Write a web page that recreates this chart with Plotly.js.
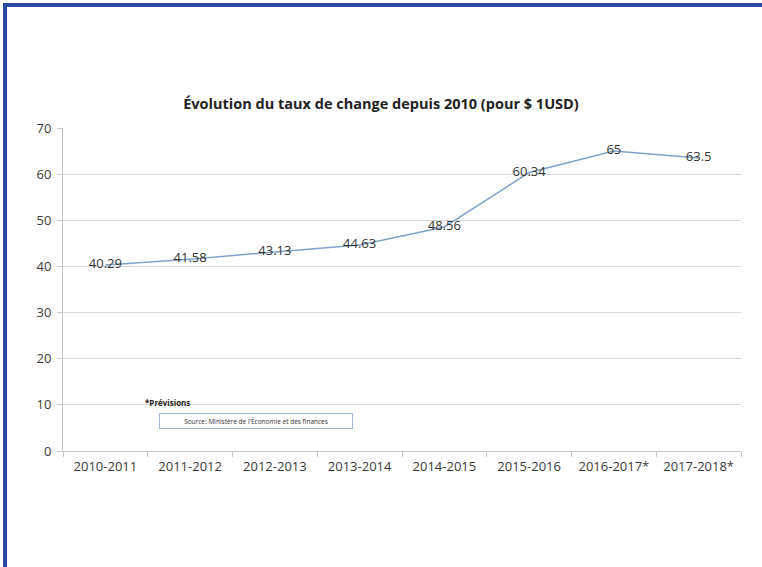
<!DOCTYPE html>
<html>
<head>
<meta charset="utf-8">
<script src="https://cdn.plot.ly/plotly-3.0.1.min.js"></script>
<style>
html,body{margin:0;padding:0;background:#fff;}
#wrap{position:relative;width:762px;height:567px;overflow:hidden;}
#frame{position:absolute;left:3px;top:3px;width:800px;height:600px;border-top:4px solid #2b479e;border-left:4px solid #2b479e;box-sizing:border-box;pointer-events:none;z-index:5;}
#chart{position:absolute;left:0;top:0;width:762px;height:567px;}
</style>
</head>
<body>
<div id="wrap">
<div id="chart"></div>
<div id="frame"></div>
</div>
<script>
const categories = ["2010-2011","2011-2012","2012-2013","2013-2014","2014-2015","2015-2016","2016-2017*","2017-2018*"];
const rates = [40.29, 41.58, 43.13, 44.63, 48.56, 60.34, 65, 63.5];
const rateLabels = ["40.29","41.58","43.13","44.63","48.56","60.34","65","63.5"];
const yTicks = [0,10,20,30,40,50,60,70];

const font = "Open Sans, Liberation Sans, sans-serif";

const trace = {
  x: categories,
  y: rates,
  type: "scatter",
  mode: "lines+text",
  text: rateLabels,
  textposition: "middle center",
  textfont: {family: font, size: 13, color: "#333333"},
  line: {color: "#7fa3c9", width: 1.5},
  hoverinfo: "x+y",
  cliponaxis: false
};

const layout = {
  width: 762, height: 567,
  paper_bgcolor: "#ffffff",
  plot_bgcolor: "#ffffff",
  margin: {l: 63, r: 21, t: 128, b: 116},
  showlegend: false,
  title: {
    text: "<b>Évolution du taux de change depuis 2010 (pour $ 1USD)</b>",
    font: {family: font, size: 14.5, color: "#222222"},
    x: 0.5, xref: "container", xanchor: "center",
    y: 1 - 104/567, yref: "container", yanchor: "middle"
  },
  xaxis: {
    type: "category",
    tickson: "boundaries",
    ticks: "outside", ticklen: 5, tickcolor: "#c8c8c8",
    ticklabelstandoff: 3,
    showline: true, linecolor: "#c8c8c8", linewidth: 1,
    showgrid: false, zeroline: false,
    tickfont: {family: font, size: 13, color: "#3a3a3a"},
    range: [-0.5, 7.5]
  },
  yaxis: {
    range: [0, 70],
    tickvals: yTicks,
    ticks: "outside", ticklen: 5, tickcolor: "#c8c8c8",
    ticklabelstandoff: 3,
    showline: true, linecolor: "#c8c8c8", linewidth: 1,
    showgrid: true, gridcolor: "#d9d9d9", gridwidth: 1,
    zeroline: false,
    tickfont: {family: font, size: 13, color: "#3a3a3a"}
  },
  annotations: [
    {
      text: "<b>*Prévisions</b>",
      xref: "paper", yref: "paper",
      x: 80/678, y: 49/323, xanchor: "left", yanchor: "middle",
      showarrow: false,
      font: {family: font, size: 8, color: "#222222"}
    },
    {
      text: "Source: Ministère de l'Économie et des finances",
      xref: "paper", yref: "paper",
      x: 193/678, y: 30/323, xanchor: "center", yanchor: "middle",
      showarrow: false,
      width: 190, height: 12,
      bordercolor: "#9fbad8", borderwidth: 1, borderpad: 1,
      bgcolor: "#ffffff",
      font: {family: font, size: 6.5, color: "#333333"}
    }
  ]
};

Plotly.newPlot("chart", [trace], layout, {displayModeBar: false, staticPlot: true});
</script>
</body>
</html>
